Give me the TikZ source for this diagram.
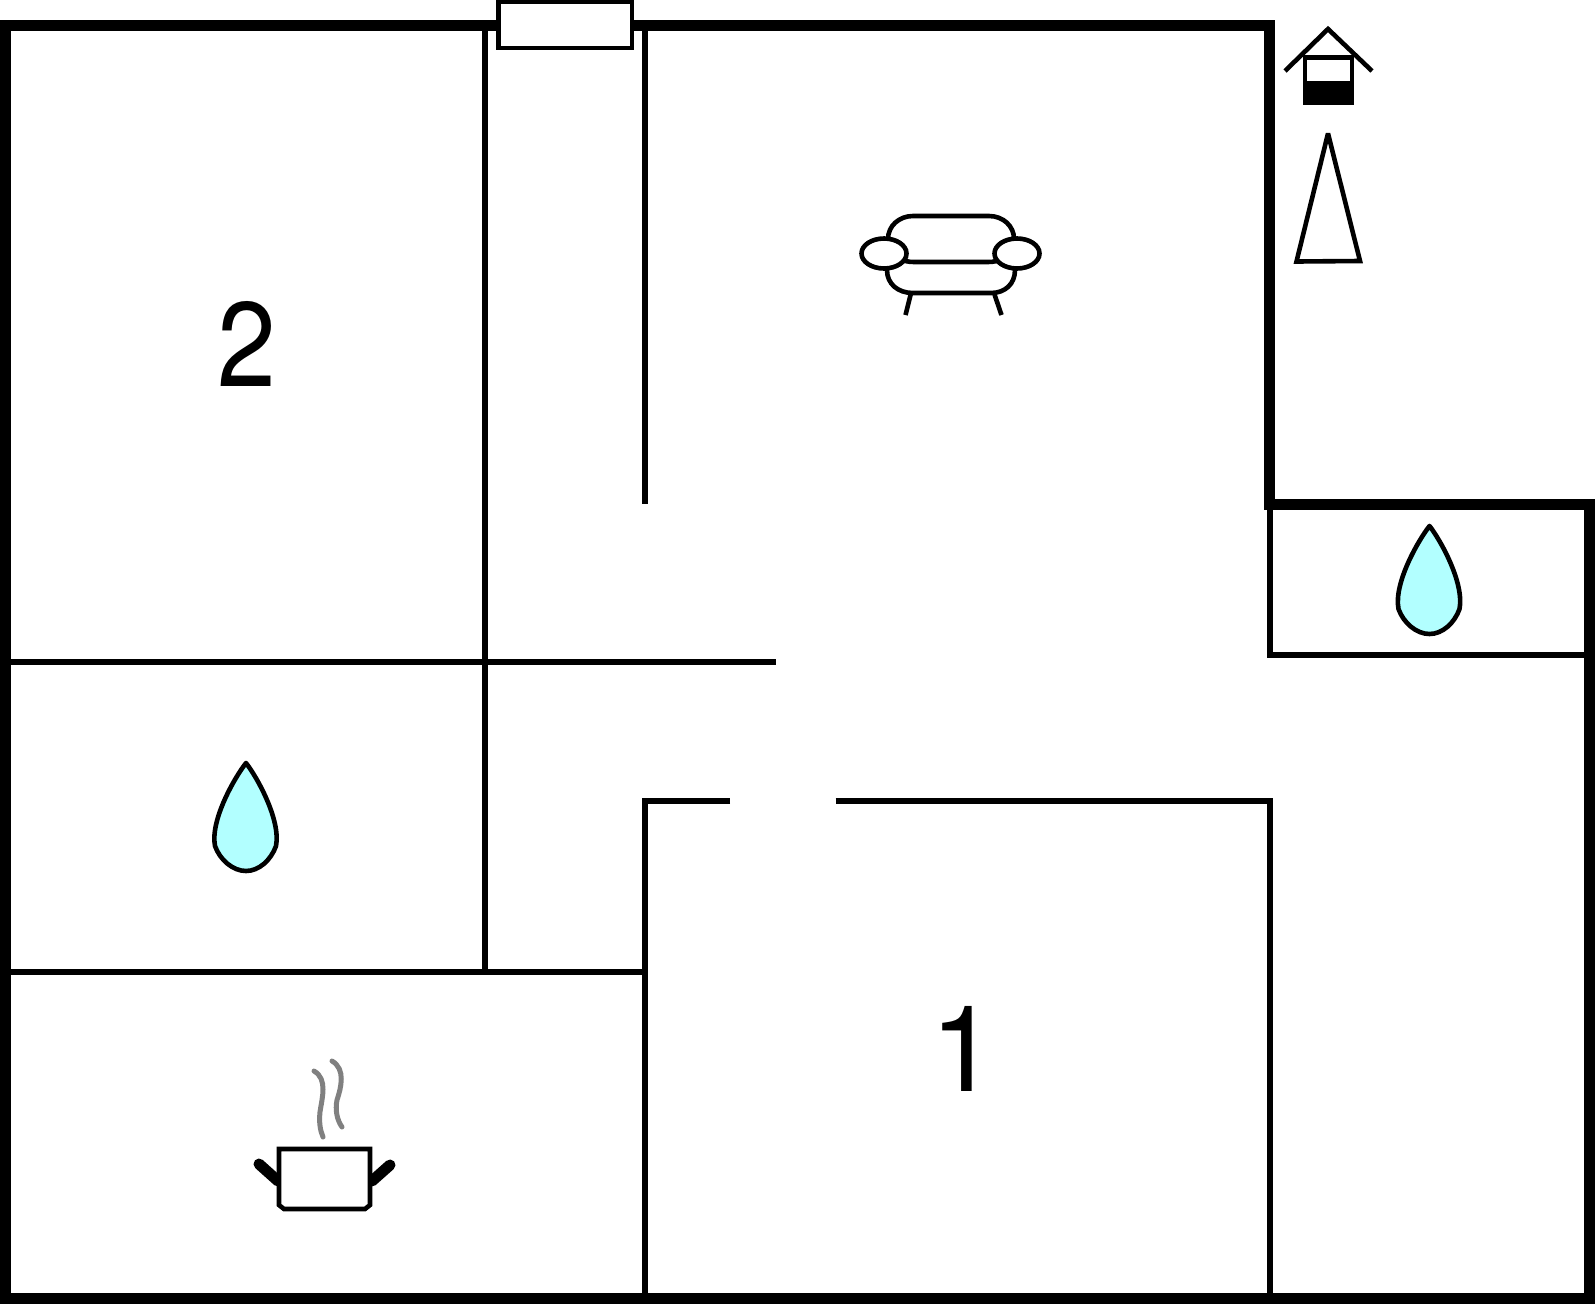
\documentclass[tikz,border=0pt]{standalone}
\usepackage{fontspec}
\setmainfont{TeX Gyre Heros}
\definecolor{dropblue}{HTML}{B2FFFF}
\tikzset{
    wall/.style={line width=11pt,miter limit=10},
    partition/.style={line width=5.6pt},
    icon/.style={line width=4.6pt},
    steam/.style={line width=5pt,gray,line cap=round},
    handle/.style={line width=11pt,line cap=round},
    roomno/.style={font=\fontsize{120}{120}\selectfont,anchor=base,inner sep=0pt}
}

\begin{document}
\begin{tikzpicture}[x=1pt,y=-1pt]
    \useasboundingbox (0,0) rectangle (1595,1304);

    % Inner walls
    \draw[partition] (485,30) -- (485,972);
    \draw[partition] (645,30) -- (645,504);
    \draw[partition] (5,661.7) -- (775.7,661.7);
    \draw[partition] (5,971.7) -- (645,971.7);
    \draw[partition] (730,800.7) -- (645,800.7) -- (645,1295);
    \draw[partition] (835.7,800.7) -- (1270,800.7) -- (1270,1295);
    \draw[partition] (1270,504) -- (1270,655) -- (1590,655);

    % Outer walls
    \draw[wall] (5.5,25.5) -- (1269.5,25.5) -- (1269.5,504.5) -- (1589.5,504.5)
        -- (1589.5,1298.5) -- (5.5,1298.5) -- cycle;
    \draw[icon,fill=white] (498.7,2) rectangle (632,48);

    % Entrance mark
    \fill (1302.7,55) rectangle (1354,105);
    \fill[white] (1307.3,60) rectangle (1350,80.7);
    \draw[icon] (1285,71) -- (1328,29) -- (1372,71);
    \draw[icon,miter limit=2] (1328,133.5) -- (1360,261) -- (1296.5,261.5) -- cycle;

    % Sofa
    \draw[icon] (888,239) .. controls (888,226) and (899,216) .. (913,216)
        -- (989,216) .. controls (1003,216) and (1014,226) .. (1014,239);
    \draw[icon] (898,258) .. controls (904,261) and (908,262) .. (914,262) -- (988,262)
        .. controls (994,262) and (998,261) .. (1004,258);
    \draw[icon] (887,270) .. controls (887,284) and (898,293) .. (913,293)
        -- (991,293) .. controls (1005,293) and (1015,284) .. (1015,270);
    \draw[icon] (911,293) -- (905.5,315);
    \draw[icon] (994,293) -- (1001.5,315);
    \draw[icon,fill=white] (884,253.5) ellipse (22.5 and 15);
    \draw[icon,fill=white] (1017,253.5) ellipse (22.5 and 15);

    % Water drops
    \foreach \dx/\dy in {0/0,1183.5/-237} {
        \draw[icon,line join=round,fill=dropblue,shift={(\dx pt,-\dy pt)}]
            (246,763) .. controls (257,777) and (281,820) .. (276,846)
            .. controls (271,860) and (259,871) .. (246,871)
            .. controls (233,871) and (220,860) .. (215,846)
            .. controls (210,820) and (235,777) .. (246,763) -- cycle;
    }

    % Cooking pot
    \draw[steam] (314,1071) .. controls (328,1079) and (322,1098) .. (320,1112)
        .. controls (319,1122) and (320,1130) .. (323,1137);
    \draw[steam] (332,1061) .. controls (346,1069) and (341,1088) .. (337,1100)
        .. controls (335,1110) and (337,1120) .. (342,1127);
    \draw[handle] (259,1164) -- (278,1181);
    \draw[handle] (390,1165) -- (372,1181);
    \draw[icon,fill=white] (279,1149) -- (370,1149) -- (370,1205) -- (365,1209)
        -- (284,1209) -- (279,1205) -- cycle;

    % Room numbers
    \node[roomno,xscale=.88] (room2) at (246.7,386) {2};
    \node[roomno] (room1) at (964,1091.7) {1};
\end{tikzpicture}
\end{document}
